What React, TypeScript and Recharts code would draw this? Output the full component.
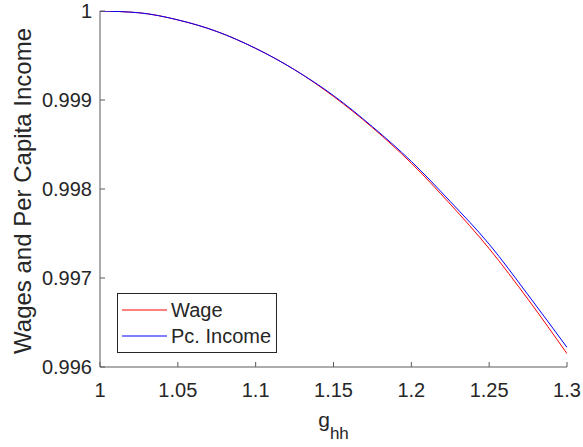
import { LineChart, Line, XAxis, YAxis, Legend } from 'recharts';

const G_HH = [1, 1.025, 1.05, 1.075, 1.1, 1.125, 1.15, 1.175, 1.2, 1.225, 1.25, 1.275, 1.3];
const WAGE = [1, 0.99998, 0.9999, 0.99977, 0.99958, 0.99934, 0.99904, 0.99869, 0.99829, 0.99783, 0.99733, 0.99676, 0.99615];
const PC_INCOME = [1, 0.99998, 0.9999, 0.99977, 0.99958, 0.99934, 0.99905, 0.9987, 0.99831, 0.99786, 0.99738, 0.99681, 0.99622];
const SERIES = ['Wage', 'Pc. Income'];
const X_TICKS = [1, 1.05, 1.1, 1.15, 1.2, 1.25, 1.3];
const Y_TICKS = [0.996, 0.997, 0.998, 0.999, 1];

const data = G_HH.map((g, i) => ({ g, wage: WAGE[i], income: PC_INCOME[i] }));

const FONT = '"Liberation Sans", Arial, Helvetica, sans-serif';
const TEXT = '#262626';
const AXIS = '#5a5a5a';

const fmtX = (v: number) => String(Number(v.toFixed(2)));
const fmtY = (v: number) => (v === 1 ? '1' : v.toFixed(3));

const BottomTick = ({ x, y, payload }: any) => (
  <g>
    <line x1={x} y1={y} x2={x} y2={y - 5} stroke={AXIS} />
    <text x={x} y={y + 23} textAnchor="middle" dominantBaseline="central" fontSize={20} fill={TEXT} fontFamily={FONT}>
      {fmtX(payload.value)}
    </text>
  </g>
);
const TopTick = ({ x, y }: any) => <line x1={x} y1={y} x2={x} y2={y + 5} stroke={AXIS} />;
const LeftTick = ({ x, y, payload }: any) => (
  <g>
    <line x1={x} y1={y} x2={x + 5} y2={y} stroke={AXIS} />
    <text x={x - 8} y={y} textAnchor="end" dominantBaseline="central" fontSize={20} fill={TEXT} fontFamily={FONT}>
      {fmtY(payload.value)}
    </text>
  </g>
);
const RightTick = ({ x, y }: any) => <line x1={x} y1={y} x2={x - 5} y2={y} stroke={AXIS} />;

const YLabel = ({ viewBox }: any) => {
  const cx = viewBox.x + 22;
  const cy = viewBox.y + viewBox.height / 2 + 2;
  return (
    <text x={cx} y={cy} transform={`rotate(-90 ${cx} ${cy})`} textAnchor="middle" dominantBaseline="central" fontSize={24} fill={TEXT} fontFamily={FONT}>
      Wages and Per Capita Income
    </text>
  );
};

const XLabel = ({ viewBox }: any) => (
  <text x={viewBox.x + viewBox.width / 2} y={viewBox.y + 60} textAnchor="middle" fontSize={21} fill={TEXT} fontFamily={FONT}>
    g<tspan fontSize={17} dy={12}>hh</tspan>
  </text>
);

const LegendBox = ({ payload }: any) => {
  const items = [...(payload || [])].sort((a: any, b: any) => SERIES.indexOf(a.value) - SERIES.indexOf(b.value));
  return (
    <div style={{ border: '1px solid #262626', background: '#fff', padding: '3px 0', fontFamily: FONT, fontSize: 20, color: TEXT, lineHeight: '26px' }}>
      {items.map((p: any) => (
        <div key={p.value} style={{ display: 'flex', alignItems: 'center' }}>
          <svg width={53} height={26}>
            <line x1={4} y1={13} x2={49} y2={13} stroke={p.color} strokeWidth={1} />
          </svg>
          <span>{p.value}</span>
        </div>
      ))}
    </div>
  );
};

export default function App() {
  return (
    <div style={{ position: 'absolute', left: 0, top: 0, background: '#fff' }}>
      <LineChart width={583} height={447} data={data} margin={{ top: 11, right: 16, bottom: 0, left: 0 }}>
        <XAxis
          dataKey="g"
          type="number"
          domain={[1, 1.3]}
          ticks={X_TICKS}
          allowDataOverflow
          height={80}
          tickSize={0}
          tickMargin={0}
          tickLine={false}
          tick={<BottomTick />}
          axisLine={{ stroke: AXIS }}
          label={<XLabel />}
        />
        <XAxis
          xAxisId="top"
          orientation="top"
          dataKey="g"
          type="number"
          domain={[1, 1.3]}
          ticks={X_TICKS}
          allowDataOverflow
          height={0}
          tickSize={0}
          tickMargin={0}
          tickLine={false}
          tick={<TopTick />}
          axisLine={{ stroke: AXIS }}
        />
        <YAxis
          type="number"
          domain={[0.996, 1]}
          ticks={Y_TICKS}
          allowDataOverflow
          width={100}
          tickSize={0}
          tickMargin={0}
          tickLine={false}
          tick={<LeftTick />}
          axisLine={{ stroke: AXIS }}
          label={<YLabel />}
        />
        <YAxis
          yAxisId="right"
          orientation="right"
          type="number"
          domain={[0.996, 1]}
          ticks={Y_TICKS}
          allowDataOverflow
          width={0}
          tickSize={0}
          tickMargin={0}
          tickLine={false}
          tick={<RightTick />}
          axisLine={{ stroke: AXIS }}
        />
        <Legend
          layout="horizontal"
          verticalAlign="middle"
          align="center"
          content={<LegendBox />}
          wrapperStyle={{ position: 'absolute', left: 117, top: 293, width: 160 }}
        />
        <Line name="Wage" dataKey="wage" type="monotone" stroke="#ff0000" strokeWidth={1} dot={false} isAnimationActive={false} />
        <Line name="Pc. Income" dataKey="income" type="monotone" stroke="#0000ff" strokeWidth={1} dot={false} isAnimationActive={false} />
      </LineChart>
    </div>
  );
}
